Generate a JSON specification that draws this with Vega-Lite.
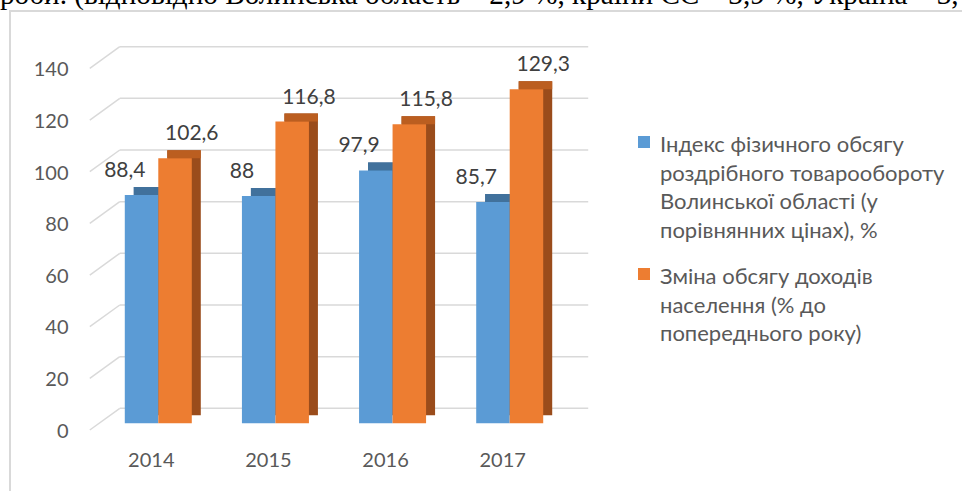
{
  "$schema": "https://vega.github.io/schema/vega-lite/v6.json",
  "autosize": {"type": "none"},
  "padding": {"left": 10, "top": 11, "right": 0, "bottom": 0},
  "width": 953,
  "height": 481,
  "title": {
    "text": "роби. (відповідно Волинська область – 2,9 %, країни ЄС – 3,9 %, Україна – 3,",
    "anchor": "start",
    "orient": "top",
    "frame": "group",
    "offset": 0,
    "baseline": "alphabetic",
    "dx": -10,
    "dy": 22,
    "font": "Liberation Serif",
    "fontSize": 29.2,
    "fontWeight": "normal",
    "color": "#000000"
  },
  "config": {
    "view": {"stroke": "#d9d9d9", "strokeWidth": 2},
    "locale": {"number": {"decimal": ",", "thousands": " ", "grouping": [3], "currency": ["", ""]}},
    "style": {"guide-label": {"lineHeight": 28.5}},
    "axisX": {"domain": false, "ticks": false, "tickSize": 0, "grid": false, "labelPadding": 0, "offset": -42, "labelOffset": -7, "labelAngle": 0, "labelFont": "Lato", "labelFontSize": 20, "labelColor": "#595959", "labelBaseline": "top"},
    "axisY": {"domain": false, "ticks": false, "tickSize": 0, "grid": false, "labelPadding": 0, "offset": -58, "labelOffset": 8, "labelFont": "Lato", "labelFontSize": 20, "labelColor": "#595959"}
  },
  "datasets": {
    "bars": [
      {"year": "2014", "series": "Індекс фізичного обсягу|роздрібного товарообороту|Волинської області (у|порівнянних цінах), %", "value": 88.4},
      {"year": "2014", "series": "Зміна обсягу доходів|населення (% до|попереднього року)", "value": 102.6},
      {"year": "2015", "series": "Індекс фізичного обсягу|роздрібного товарообороту|Волинської області (у|порівнянних цінах), %", "value": 88},
      {"year": "2015", "series": "Зміна обсягу доходів|населення (% до|попереднього року)", "value": 116.8},
      {"year": "2016", "series": "Індекс фізичного обсягу|роздрібного товарообороту|Волинської області (у|порівнянних цінах), %", "value": 97.9},
      {"year": "2016", "series": "Зміна обсягу доходів|населення (% до|попереднього року)", "value": 115.8},
      {"year": "2017", "series": "Індекс фізичного обсягу|роздрібного товарообороту|Волинської області (у|порівнянних цінах), %", "value": 85.7},
      {"year": "2017", "series": "Зміна обсягу доходів|населення (% до|попереднього року)", "value": 129.3}
    ],
    "grid": [{"v": 0}, {"v": 20}, {"v": 40}, {"v": 60}, {"v": 80}, {"v": 100}, {"v": 120}, {"v": 140}]
  },
  "resolve": {"scale": {"xOffset": "independent", "color": "independent"}},
  "layer": [
    {
      "data": {"name": "grid"},
      "mark": {"type": "rule", "color": "#d9d9d9", "strokeWidth": 1.5, "xOffset": -5, "x2Offset": 45, "yOffset": -15},
      "encoding": {
        "x": {"datum": "2014", "type": "nominal", "bandPosition": 0, "title": null},
        "x2": {"datum": "2017", "bandPosition": 1},
        "y": {"field": "v", "type": "quantitative", "title": null}
      }
    },
    {
      "data": {"name": "grid"},
      "mark": {"type": "rule", "color": "#d9d9d9", "strokeWidth": 1.5, "xOffset": -35, "x2Offset": -5, "yOffset": 6.7, "y2Offset": -15},
      "encoding": {
        "x": {"datum": "2014", "type": "nominal", "bandPosition": 0, "title": null},
        "x2": {"datum": "2014", "bandPosition": 0},
        "y": {"field": "v", "type": "quantitative", "title": null},
        "y2": {"field": "v"}
      }
    },
    {
      "data": {"name": "bars"},
      "mark": {"type": "bar", "yOffset": -8, "y2Offset": -8},
      "encoding": {
        "x": {"field": "year", "type": "nominal", "title": null},
        "xOffset": {"field": "series", "type": "nominal", "sort": ["Індекс фізичного обсягу|роздрібного товарообороту|Волинської області (у|порівнянних цінах), %", "Зміна обсягу доходів|населення (% до|попереднього року)"], "scale": {"range": [9, 76], "paddingInner": 0, "paddingOuter": 0}},
        "y": {"field": "value", "type": "quantitative", "title": null},
        "color": {"field": "series", "type": "nominal", "sort": ["Індекс фізичного обсягу|роздрібного товарообороту|Волинської області (у|порівнянних цінах), %", "Зміна обсягу доходів|населення (% до|попереднього року)"], "scale": {"range": ["#3a6891", "#9a4c1b"]}, "legend": null}
      }
    },
    {
      "data": {"name": "bars"},
      "mark": {"type": "bar", "yOffset": -8},
      "encoding": {
        "x": {"field": "year", "type": "nominal", "title": null},
        "xOffset": {"field": "series", "type": "nominal", "sort": ["Індекс фізичного обсягу|роздрібного товарообороту|Волинської області (у|порівнянних цінах), %", "Зміна обсягу доходів|населення (% до|попереднього року)"], "scale": {"range": [9, 76], "paddingInner": 0, "paddingOuter": 0}},
        "y": {"field": "value", "type": "quantitative", "title": null},
        "y2": {"field": "value"},
        "color": {"field": "series", "type": "nominal", "sort": ["Індекс фізичного обсягу|роздрібного товарообороту|Волинської області (у|порівнянних цінах), %", "Зміна обсягу доходів|населення (% до|попереднього року)"], "scale": {"range": ["#41719c", "#bb5e20"]}, "legend": null}
      }
    },
    {
      "data": {"name": "bars"},
      "mark": {"type": "bar"},
      "encoding": {
        "x": {"field": "year", "type": "nominal", "title": null, "scale": {"range": [80, 568], "paddingInner": 0.428, "paddingOuter": 0.297}},
        "xOffset": {"field": "series", "type": "nominal", "sort": ["Індекс фізичного обсягу|роздрібного товарообороту|Волинської області (у|порівнянних цінах), %", "Зміна обсягу доходів|населення (% до|попереднього року)"], "scale": {"paddingInner": 0, "paddingOuter": 0}},
        "y": {"field": "value", "type": "quantitative", "title": null, "scale": {"domain": [0, 140], "range": [412.3, 50.7], "nice": false}, "axis": {"values": [0, 20, 40, 60, 80, 100, 120, 140]}},
        "color": {
          "field": "series", "type": "nominal",
          "sort": ["Індекс фізичного обсягу|роздрібного товарообороту|Волинської області (у|порівнянних цінах), %", "Зміна обсягу доходів|населення (% до|попереднього року)"],
          "scale": {"range": ["#5b9bd5", "#ed7d31"]},
          "legend": {"orient": "none", "legendX": 623, "legendY": 113, "title": null, "labelExpr": "split(datum.label, '|')", "labelFont": "Lato", "labelFontSize": 22, "labelColor": "#595959", "labelBaseline": "top", "labelOffset": 5, "symbolType": "M-1,0.17L1,0.17L1,2.17L-1,2.17Z", "symbolSize": 144, "symbolStrokeWidth": 0, "rowPadding": 14, "labelLimit": 400, "padding": 0}
        }
      }
    },
    {
      "data": {"name": "bars"},
      "mark": {"type": "text", "baseline": "middle", "dy": -24, "font": "Lato", "fontSize": 21, "color": "#404040"},
      "encoding": {
        "x": {"field": "year", "type": "nominal", "title": null},
        "xOffset": {"field": "series", "type": "nominal", "sort": ["Індекс фізичного обсягу|роздрібного товарообороту|Волинської області (у|порівнянних цінах), %", "Зміна обсягу доходів|населення (% до|попереднього року)"], "scale": {"paddingInner": 0, "paddingOuter": 0}},
        "y": {"field": "value", "type": "quantitative", "title": null},
        "text": {"field": "value", "type": "quantitative", "format": "~r"}
      }
    }
  ]
}
